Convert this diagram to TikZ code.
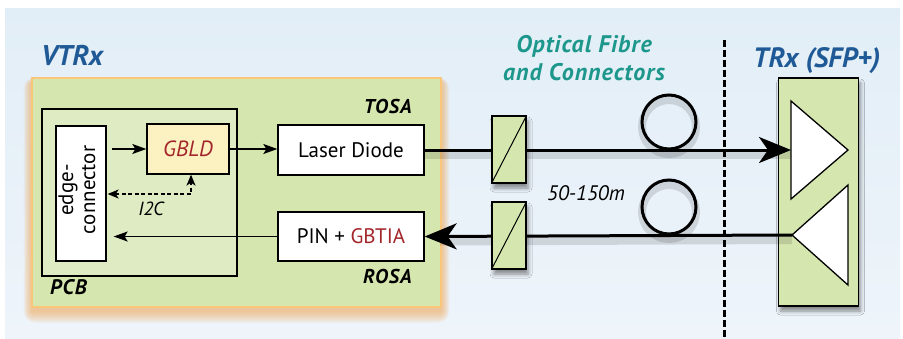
\documentclass[tikz,border=0pt]{standalone}
\usepackage{fontspec}
\setmainfont{PT Sans}
\newfontfamily\hdfont[LetterSpace=5]{PT Sans}
\newfontfamily\oftfont[LetterSpace=4]{PT Sans}
\usetikzlibrary{arrows.meta,shadows.blur}
\definecolor{bgtop}{HTML}{E2EEF7}
\definecolor{bgbot}{HTML}{EEF4FA}
\definecolor{modgreen}{HTML}{D5E6AE}
\definecolor{pcbgreen}{HTML}{DFEBC2}
\definecolor{modedge}{HTML}{F9C67A}
\definecolor{glowcol}{HTML}{F6A34A}
\definecolor{gbldfill}{HTML}{FBF1C1}
\definecolor{chipred}{HTML}{A3262B}
\definecolor{titleblue}{HTML}{1F5A97}
\definecolor{fibreteal}{HTML}{1D978B}
\begin{document}
\begin{tikzpicture}[x=1pt,y=-1pt,
  blk/.style={draw=black, line width=1.3pt, fill=white, inner sep=0pt},
  grn/.style={draw=black, line width=1.3pt, fill=modgreen, inner sep=0pt},
  gshadow/.style={blur shadow={shadow xshift=2pt, shadow yshift=-5pt, shadow blur radius=4pt, shadow opacity=45}},
  sarrow/.style={line width=1.4pt, -{Stealth[length=14pt,width=10pt,inset=3pt]}},
  fibre/.style={line width=3pt},
  bigtip/.style={-{Stealth[length=32pt,width=26pt,inset=9pt]}},
  fshadow/.style={line width=8pt, black, opacity=0.12},
  lbl/.style={inner sep=0pt},
  hd/.style={inner sep=0pt, font=\fontsize{20}{22}\hdfont\bfseries\itshape}
]
\useasboundingbox (0,0) rectangle (903,338);
\fill[white] (0,0) rectangle (903,338);
\shade[top color=bgtop, bottom color=bgbot] (5,8) rectangle (900,338);

% module glow
\foreach \i in {12,11,...,1}
  \fill[glowcol, opacity=0.06, rounded corners=\i pt] (32-\i*0.7,78-\i*0.5+5) rectangle (441+\i*0.7,307+\i+4);
\node[fill=modgreen, draw=modedge, line width=2pt, minimum width=409pt, minimum height=229pt, inner sep=0pt] (module) at (236.5,192.5) {};
\node[draw=black, line width=1.3pt, fill=pcbgreen, minimum width=195pt, minimum height=167pt, inner sep=0pt] (pcb) at (139.5,192.5) {};

% titles
\node[lbl, anchor=base west, text=titleblue, font=\fontsize{28.5}{30}\selectfont\bfseries\itshape] (vtrx) at (41,65) {VTRx};
\node[lbl, anchor=base west, text=titleblue, font=\fontsize{28}{30}\selectfont\bfseries\itshape] (trxt) at (753,67) {TRx (SFP+)};
\node[lbl, anchor=base, text=fibreteal, font=\fontsize{24}{28}\oftfont\bfseries\itshape] (oft1) at (584,52) {Optical Fibre};
\node[lbl, anchor=base, text=fibreteal, font=\fontsize{24}{28}\oftfont\bfseries\itshape] (oft2) at (584,80) {and Connectors};

% inner blocks
\node[blk, minimum width=50pt, minimum height=135pt] (edge) at (81,193.5) {};
\node[lbl, rotate=90, align=center, font=\fontsize{21}{22}\selectfont] (edget) at (77,190) {edge-\\connector};
\node[blk, fill=gbldfill, minimum width=82pt, minimum height=50pt, font=\fontsize{22}{24}\selectfont\itshape, text=chipred] (gbld) at (188,149) {GBLD};
\node[blk, minimum width=146pt, minimum height=50pt, font=\fontsize{21}{24}\selectfont] (laser) at (351,150) {Laser Diode};
\node[blk, minimum width=146pt, minimum height=49pt, font=\fontsize{21}{24}\selectfont] (pin) at (351,236.5) {PIN + \textcolor{chipred}{GBTIA}};

\node[hd, anchor=base east] (tosa) at (412,113) {TOSA};
\node[hd, anchor=base east] (rosa) at (412,283) {ROSA};
\node[hd, anchor=base west, font=\fontsize{21}{22}\hdfont\bfseries\itshape] (pcbt) at (50,294) {PCB};
\node[lbl, anchor=base, font=\fontsize{19}{20}\selectfont\itshape] (i2ct) at (151,215) {I2C};

% internal arrows
\coordinate (a1) at (112,149);
\draw[sarrow] (a1) -- (gbld.west |- a1);
\draw[sarrow] (gbld.east) -- (laser.west |- gbld.east);
\draw[sarrow] (pin.west) -- ([xshift=7pt]edge.east |- pin.west);
\coordinate (i2cc) at (191,194);
\draw[line width=1.4pt, dash pattern=on 4pt off 2.5pt, {Stealth[length=11pt,width=9pt,inset=3pt]}-{Stealth[length=11pt,width=9pt,inset=3pt]}] ([xshift=1pt]edge.east |- i2cc) -- (i2cc) -- (gbld.south -| i2cc);

% TRx box
\node[grn, gshadow, minimum width=80pt, minimum height=228pt] (trx) at (818.5,192) {};
\coordinate (t1a) at (791,101);
\coordinate (t1m) at (791,150);
\coordinate (t1c) at (791,199);
\coordinate (t1p) at (848,150);
\coordinate (t2a) at (848,185);
\coordinate (t2c) at (848,285);
\coordinate (t2p) at (792,235);
\draw[line width=1.3pt, fill=white] (t1a) -- (t1p) -- (t1c) -- cycle;
\draw[line width=1.3pt, fill=white] (t2a) -- (t2p) -- (t2c) -- cycle;

% fibre shadows
\draw[fshadow] ([yshift=-5pt]laser.east) -- ([yshift=-5pt]t1m);
\draw[fshadow] ([yshift=-5pt]t2p) -- ([yshift=-5pt]pin.east -| 440,0);

% fibres
\draw[fibre, bigtip] (laser.east) -- (t1m);
\draw[fibre, bigtip] (t2p) -- (pin.east);

% loops
\coordinate (l1) at (669,122);
\coordinate (l2) at (669,207);
\draw[black, opacity=0.12, line width=8pt] ([yshift=-5pt]l1) circle (27pt);
\draw[black, opacity=0.12, line width=8pt] ([yshift=-5pt]l2) circle (27pt);
\draw[line width=3pt] (l1) circle (27pt);
\draw[line width=3pt] (l2) circle (27pt);

% connectors
\node[grn, gshadow, minimum width=34pt, minimum height=67pt] (con1) at (509,149.5) {};
\draw[line width=1pt] (con1.south west) -- (con1.north east);
\node[grn, gshadow, minimum width=34pt, minimum height=67pt] (con2) at (509,235.5) {};
\draw[line width=1pt] (con2.south west) -- (con2.north east);

\node[lbl, anchor=base, font=\fontsize{21}{22}\selectfont\itshape] (dist) at (586,200) {50-150m};

% divider
\coordinate (dvt) at (724,40);
\coordinate (dvb) at (724,338);
\draw[line width=3pt, dash pattern=on 7pt off 3pt] (dvt) -- (dvb);
\end{tikzpicture}
\end{document}
